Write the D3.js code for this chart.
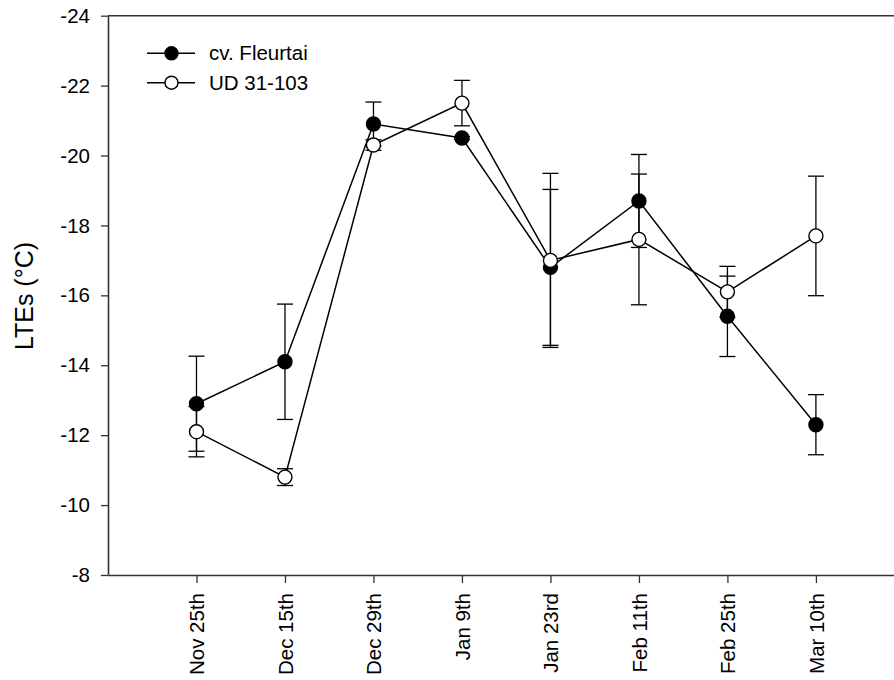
<!DOCTYPE html>
<html>
<head>
<meta charset="utf-8">
<script src="https://cdn.jsdelivr.net/npm/d3@7"></script>
<style>
  html, body { margin: 0; padding: 0; background: #fff; overflow: hidden; }
  svg { display: block; font-family: "Liberation Sans", Arial, sans-serif; }
</style>
</head>
<body>
<svg id="chart" width="894" height="680"></svg>
<script>
const categories = ["Nov 25th", "Dec 15th", "Dec 29th", "Jan 9th", "Jan 23rd", "Feb 11th", "Feb 25th", "Mar 10th"];
const fleurtai = [-12.9, -14.1, -20.9, -20.5, -16.8, -18.7, -15.4, -12.3];
const fleurtaiErr = [1.36, 1.65, 0.63, 0.04, 2.23, 1.33, 1.15, 0.86];
const ud = [-12.1, -10.8, -20.3, -21.5, -17.0, -17.6, -16.1, -17.7];
const udErr = [0.72, 0.24, 0.15, 0.65, 2.49, 1.87, 0.73, 1.71];
const yTicks = [-24, -22, -20, -18, -16, -14, -12, -10, -8];
const seriesNames = ["cv. Fleurtai", "UD 31-103"];

const svg = d3.select("#chart");
const mLeft = 108, mTop = 15.7, mBottom = 575, mRight = 904.4;

const x = d3.scaleLinear().domain([0, 9]).range([mLeft, mRight]);
const y = d3.scaleLinear().domain([-24, -8]).range([mTop, mBottom]);

const axisColor = "#333";
const fontSize = 20.5;

// top border
svg.append("line")
  .attr("x1", mLeft).attr("x2", mRight).attr("y1", mTop).attr("y2", mTop)
  .attr("stroke", axisColor).attr("stroke-width", 1.6);

// Y axis
const yAxis = svg.append("g")
  .attr("transform", `translate(${mLeft},0)`)
  .call(d3.axisLeft(y).tickValues(yTicks).tickSize(7).tickSizeOuter(0).tickPadding(11).tickFormat(d => String(d)));
yAxis.select(".domain").attr("stroke", axisColor).attr("stroke-width", 1.6);
yAxis.selectAll(".tick line").attr("stroke", axisColor).attr("stroke-width", 1.3);
yAxis.selectAll(".tick text").attr("font-size", fontSize).attr("fill", "#000")
  .attr("font-family", "'Liberation Sans', Arial, sans-serif");

// X axis
const xAxis = svg.append("g")
  .attr("transform", `translate(0,${mBottom})`)
  .call(d3.axisBottom(x).tickValues(d3.range(1, categories.length + 1)).tickSize(8).tickSizeOuter(0)
    .tickFormat((d) => categories[d - 1]));
xAxis.select(".domain").attr("stroke", axisColor).attr("stroke-width", 1.6);
xAxis.selectAll(".tick line").attr("stroke", axisColor).attr("stroke-width", 1.3);
xAxis.selectAll(".tick text")
  .attr("font-size", fontSize).attr("fill", "#000")
  .attr("font-family", "'Liberation Sans', Arial, sans-serif")
  .attr("transform", "rotate(-90)")
  .attr("text-anchor", "end")
  .attr("x", -18)
  .attr("y", 0)
  .attr("dy", "0.35em");

// Y title
svg.append("text")
  .attr("transform", `translate(33,296) rotate(-90)`)
  .attr("text-anchor", "middle")
  .attr("font-size", 25)
  .attr("fill", "#000")
  .text("LTEs (°C)");

const line = d3.line().x((d, i) => x(i + 1)).y(d => y(d));
const capW = 8;

function drawSeries(vals, errs, filled) {
  const g = svg.append("g");
  vals.forEach((v, i) => {
    const cx = x(i + 1);
    const y1 = y(v - errs[i]), y2 = y(v + errs[i]);
    g.append("line").attr("x1", cx).attr("x2", cx).attr("y1", y1).attr("y2", y2)
      .attr("stroke", "#000").attr("stroke-width", 1.3);
    [y1, y2].forEach(yy => g.append("line")
      .attr("x1", cx - capW).attr("x2", cx + capW).attr("y1", yy).attr("y2", yy)
      .attr("stroke", "#000").attr("stroke-width", 1.3));
  });
  g.append("path").datum(vals).attr("d", line)
    .attr("fill", "none").attr("stroke", "#000").attr("stroke-width", 1.5);
  g.selectAll("circle").data(vals).join("circle")
    .attr("cx", (d, i) => x(i + 1)).attr("cy", d => y(d))
    .attr("r", 7)
    .attr("fill", filled ? "#000" : "#fff")
    .attr("stroke", "#000").attr("stroke-width", 1.4);
}

drawSeries(fleurtai, fleurtaiErr, true);
drawSeries(ud, udErr, false);

// legend
const legend = svg.append("g");
seriesNames.forEach((name, i) => {
  const ly = 53.3 + i * 29.4;
  legend.append("line").attr("x1", 147).attr("x2", 195).attr("y1", ly).attr("y2", ly)
    .attr("stroke", "#000").attr("stroke-width", 1.5);
  legend.append("circle").attr("cx", 171.5).attr("cy", ly).attr("r", 6.5)
    .attr("fill", i === 0 ? "#000" : "#fff").attr("stroke", "#000").attr("stroke-width", 1.4);
  legend.append("text").attr("x", 209).attr("y", ly).attr("dy", "0.35em")
    .attr("font-size", fontSize).attr("fill", "#000").text(name);
});
</script>
</body>
</html>
